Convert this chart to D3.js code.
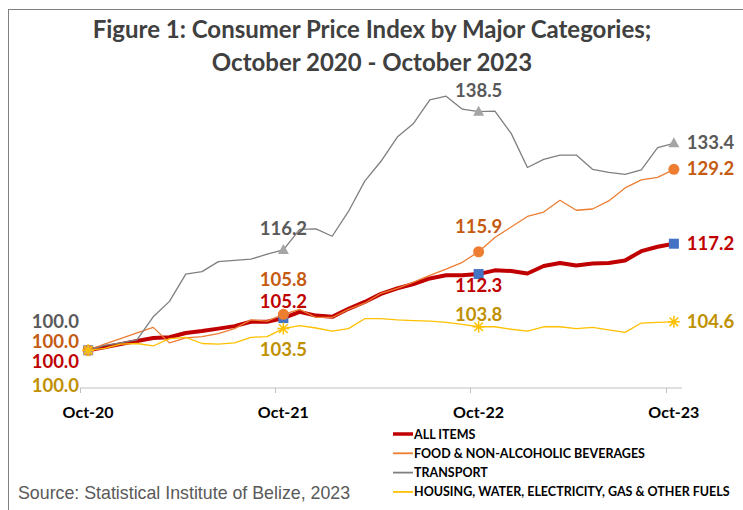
<!DOCTYPE html>
<html>
<head>
<meta charset="utf-8">
<script src="https://cdn.jsdelivr.net/npm/d3@7"></script>
<style>
  body { margin: 0; background: #fff; }
  svg { display: block; }
  text { font-family: Lato, "Open Sans", sans-serif; }
</style>
</head>
<body>
<svg id="chart" width="743" height="510"></svg>
<script>
const WIDTH = 743;
const HEIGHT = 510;

const months = [
  "Oct-20", "Nov-20", "Dec-20", "Jan-21", "Feb-21", "Mar-21", "Apr-21", "May-21", "Jun-21", "Jul-21", "Aug-21", "Sep-21",
  "Oct-21", "Nov-21", "Dec-21", "Jan-22", "Feb-22", "Mar-22", "Apr-22", "May-22", "Jun-22", "Jul-22", "Aug-22", "Sep-22",
  "Oct-22", "Nov-22", "Dec-22", "Jan-23", "Feb-23", "Mar-23", "Apr-23", "May-23", "Jun-23", "Jul-23", "Aug-23", "Sep-23",
  "Oct-23"
];
const tickLabels = ["Oct-20", "Oct-21", "Oct-22", "Oct-23"];

const allItems = [
  100.0, 100.5, 101.0, 101.5, 102.0, 102.1, 102.8, 103.1, 103.5, 103.9, 104.6, 104.6,
  105.2, 106.2, 105.6, 105.4, 106.7, 107.8, 109.1, 110.0, 110.7, 111.6, 112.1, 112.1,
  112.3, 112.9, 112.8, 112.4, 113.6, 114.1, 113.7, 114.0, 114.1, 114.5, 116.0, 116.7,
  117.2
];
const food = [
  100.0, 101.0, 101.9, 102.8, 103.7, 101.2, 102.0, 102.2, 102.7, 103.5, 104.9, 104.7,
  105.8, 106.6, 105.3, 105.3, 106.6, 107.6, 109.2, 110.0, 111.0, 112.1, 113.1, 114.2,
  115.9, 118.2, 119.9, 121.6, 122.3, 124.2, 122.6, 122.8, 124.1, 126.2, 127.5, 127.9,
  129.2
];
const transport = [
  100.0, 100.8, 101.2, 101.7, 105.4, 107.9, 112.3, 112.7, 114.3, 114.5, 114.7, 115.5,
  116.2, 119.5, 119.6, 118.4, 122.4, 127.3, 130.5, 134.4, 136.6, 140.4, 141.0, 138.9,
  138.5, 138.6, 135.0, 129.5, 130.8, 131.5, 131.5, 129.2, 128.7, 128.4, 129.1, 132.7,
  133.4
];
const housing = [
  100.0, 100.3, 101.0, 101.1, 100.7, 101.9, 102.1, 101.1, 101.0, 101.2, 102.1, 102.2,
  103.5, 104.0, 103.6, 103.1, 103.5, 105.1, 105.1, 104.9, 104.8, 104.7, 104.5, 104.2,
  103.8, 103.8, 103.4, 103.1, 103.8, 103.8, 103.5, 103.7, 103.3, 102.9, 104.4, 104.5,
  104.6
];

const seriesNames = [
  "ALL ITEMS",
  "FOOD & NON-ALCOHOLIC BEVERAGES",
  "TRANSPORT",
  "HOUSING, WATER, ELECTRICITY, GAS & OTHER FUELS"
];

const series = [
  { name: seriesNames[0], values: allItems, color: "#C00000", labelColor: "#C00000", width: 4, marker: "square", markerColor: "#4472C4" },
  { name: seriesNames[1], values: food, color: "#ED7D31", labelColor: "#C55A11", width: 1.3, marker: "circle", markerColor: "#ED7D31" },
  { name: seriesNames[2], values: transport, color: "#7F7F7F", labelColor: "#595959", width: 1.3, marker: "triangle", markerColor: "#A5A5A5" },
  { name: seriesNames[3], values: housing, color: "#FFC000", labelColor: "#BF9000", width: 1.3, marker: "star", markerColor: "#FFC000" }
];

const markedIdx = [0, 12, 24, 36];

const x = d3.scaleBand().domain(months).range([80, 682]).padding(0);
const xc = (m) => x(m) + x.bandwidth() / 2;
const y = d3.scaleLinear().domain([94, 146]).range([387.5, 65.2]);

const svg = d3.select("#chart");

// outer frame (only left and top edges fall inside the picture)
svg.append("rect")
  .attr("x", 8.5).attr("y", 9.5)
  .attr("width", 760).attr("height", 520)
  .attr("fill", "none").attr("stroke", "#808080").attr("stroke-width", 1);

// title
const title = svg.append("text")
  .attr("text-anchor", "middle")
  .attr("fill", "#404040")
  .style("font-size", "24px").style("font-weight", "bold");
title.append("tspan").attr("x", 372).attr("y", 38).text("Figure 1: Consumer Price Index by Major Categories;");
title.append("tspan").attr("x", 372).attr("y", 71).text("October 2020 - October 2023");

// x axis
const axis = svg.append("g");
axis.append("line")
  .attr("x1", 80).attr("x2", 682).attr("y1", 388).attr("y2", 388)
  .attr("stroke", "#BFBFBF").attr("stroke-width", 1);
axis.selectAll(".tick")
  .data(tickLabels)
  .enter().append("line")
  .attr("x1", (d) => Math.round(x(d)) + 0.5).attr("x2", (d) => Math.round(x(d)) + 0.5)
  .attr("y1", 388).attr("y2", 393)
  .attr("stroke", "#BFBFBF");
axis.selectAll(".tlab")
  .data(tickLabels)
  .enter().append("text")
  .attr("x", (d) => xc(d)).attr("y", 418)
  .attr("text-anchor", "middle")
  .attr("fill", "#000")
  .style("font-size", "16px").style("font-weight", "bold")
  .text((d) => d);

// lines
const line = d3.line()
  .x((d, i) => xc(months[i]))
  .y((d) => y(d));

svg.append("g").selectAll("path")
  .data(series)
  .enter().append("path")
  .attr("d", (s) => line(s.values))
  .attr("fill", "none")
  .attr("stroke", (s) => s.color)
  .attr("stroke-width", (s) => s.width)
  .attr("stroke-linejoin", "round");

// markers
const markers = svg.append("g");
series.forEach((s) => {
  markedIdx.forEach((i) => {
    const cx = xc(months[i]);
    const cy = y(s.values[i]);
    if (s.marker === "square") {
      markers.append("rect").attr("x", cx - 5).attr("y", cy - 5).attr("width", 10).attr("height", 10).attr("fill", s.markerColor);
    } else if (s.marker === "circle") {
      markers.append("circle").attr("cx", cx).attr("cy", cy).attr("r", 5.5).attr("fill", s.markerColor);
    } else if (s.marker === "triangle") {
      markers.append("path").attr("d", `M${cx},${cy - 6}L${cx + 5.5},${cy + 4}L${cx - 5.5},${cy + 4}Z`).attr("fill", s.markerColor);
    } else {
      const r = 6;
      markers.append("path")
        .attr("d", `M${cx - r},${cy}L${cx + r},${cy}M${cx},${cy - r}L${cx},${cy + r}M${cx - 4.3},${cy - 4.3}L${cx + 4.3},${cy + 4.3}M${cx - 4.3},${cy + 4.3}L${cx + 4.3},${cy - 4.3}`)
        .attr("stroke", s.markerColor).attr("stroke-width", 1.5).attr("fill", "none");
    }
  });
});

// data labels
const labels = svg.append("g").style("font-size", "18.5px").style("font-weight", "bold");
const fmt = d3.format(".1f");

// starting values, stacked left of the first point
const startLabelY = [328, 348, 368, 392];
[2, 1, 0, 3].forEach((si, k) => {
  labels.append("text")
    .attr("x", 79).attr("y", startLabelY[k])
    .attr("text-anchor", "end")
    .attr("fill", series[si].labelColor)
    .text(fmt(series[si].values[0]));
});

// mid labels (Oct-21, Oct-22)
[12, 24].forEach((i) => {
  const cx = xc(months[i]);
  labels.append("text").attr("x", cx).attr("y", y(transport[i]) - 15)
    .attr("text-anchor", "middle").attr("fill", series[2].labelColor).text(fmt(transport[i]));
  labels.append("text").attr("x", cx).attr("y", y(food[i]) - (i === 12 ? 28 : 19))
    .attr("text-anchor", "middle").attr("fill", series[1].labelColor).text(fmt(food[i]));
  labels.append("text").attr("x", cx).attr("y", i === 12 ? y(allItems[i]) - 10 : y(allItems[i]) + 18)
    .attr("text-anchor", "middle").attr("fill", series[0].labelColor).text(fmt(allItems[i]));
  labels.append("text").attr("x", cx).attr("y", i === 12 ? y(housing[i]) + 27 : y(housing[i]) - 6)
    .attr("text-anchor", "middle").attr("fill", series[3].labelColor).text(fmt(housing[i]));
});

// end labels
series.forEach((s) => {
  const v = s.values[36];
  labels.append("text")
    .attr("x", xc(months[36]) + 13).attr("y", y(v) + 6)
    .attr("fill", s.labelColor)
    .text(fmt(v));
});

// legend
const legend = svg.append("g").selectAll("g")
  .data(series)
  .enter().append("g")
  .attr("transform", (d, i) => `translate(393, ${434 + i * 19.3})`);
legend.append("line")
  .attr("x1", 0).attr("x2", 20).attr("y1", 0).attr("y2", 0)
  .attr("stroke", (d) => d.color)
  .attr("stroke-width", (d) => (d.width > 2 ? 3.5 : 1.8));
legend.append("text")
  .attr("x", 21).attr("y", 4.5)
  .attr("fill", "#000")
  .style("font-size", "12.5px").style("font-weight", "bold")
  .text((d) => d.name);

// source
svg.append("text")
  .attr("x", 18).attr("y", 499)
  .attr("fill", "#595959")
  .style("font-family", "'Liberation Sans', Arial, sans-serif")
  .style("font-size", "17.8px")
  .text("Source: Statistical Institute of Belize, 2023");
</script>
</body>
</html>
